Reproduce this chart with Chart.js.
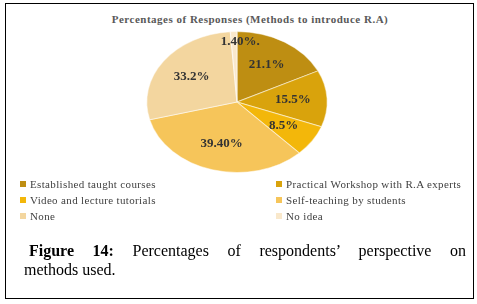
<!DOCTYPE html>
<html>
<head>
<meta charset="utf-8">
<script src="https://cdn.jsdelivr.net/npm/chart.js@4/dist/chart.umd.min.js"></script>
<style>
  body { margin: 0; background: #fff; }
  #frame { position: absolute; left: 5px; top: 3px; width: 467px; height: 294px; border: 1px solid #000; }
  #title { position: absolute; left: 0; top: 13px; width: 500px; text-align: center;
           font: bold 11px "Liberation Serif", serif; color: #595959; letter-spacing: 0.5px; }
  #chart { position: absolute; left: 5px; top: 0; }
  .leg { position: absolute; font: 11px "Liberation Serif", serif; color: #404040; white-space: nowrap;
         letter-spacing: 0.35px; }
  .leg i { display: inline-block; width: 6px; height: 6px; margin-right: 4px; vertical-align: 1px; }
  #cap { position: absolute; left: 24px; top: 241px; width: 442px; font: 16px "Liberation Serif", serif;
         color: #000; line-height: 19px; }
  #cap .l1 { text-align: justify; text-align-last: justify; text-indent: 5px; }
</style>
</head>
<body>
<div id="frame"></div>
<div id="title">Percentages of Responses (Methods to introduce R.A)</div>
<canvas id="chart" width="464" height="200"></canvas>
<div id="legend"></div>
<div id="cap">
  <div class="l1"><b>Figure 14:</b> Percentages of respondents’ perspective on</div>
  <div>methods used.</div>
</div>
<script>
const categories = ['Established taught courses', 'Practical Workshop with R.A experts',
  'Video and lecture tutorials', 'Self-teaching by students', 'None', 'No idea']
const values = [21.1, 15.5, 8.5, 39.4, 33.2, 1.4]
const valueLabels = ['21.1%', '15.5%', '8.5%', '39.40%', '33.2%', '1.40%.']
const colors = ['#BE8E12', '#D9A30C', '#F3B70A', '#F6C55A', '#F3D69F', '#F9E8CB']

// stretch the pie sideways so it looks like the tilted excel pie
const squash = {
  id: 'squash',
  beforeDatasetsDraw(chart) {
    const a = chart.getDatasetMeta(0).data[0]
    const ctx = chart.ctx
    ctx.save()
    ctx.translate(a.x, a.y)
    ctx.scale(1.28, 1)
    ctx.translate(-a.x, -a.y)
  },
  afterDatasetsDraw(chart) {
    const ctx = chart.ctx
    ctx.restore()
    const total = values.reduce((s, v) => s + v, 0)
    ctx.save()
    ctx.font = 'bold 13px "Liberation Serif", serif'
    ctx.fillStyle = '#333333'
    ctx.textAlign = 'center'
    ctx.textBaseline = 'middle'
    chart.getDatasetMeta(0).data.forEach((arc, i) => {
      const small = values[i] / total < 0.03
      const mid = (arc.startAngle + arc.endAngle) / 2
      const k = small ? 0.86 : 0.62
      const x = arc.x + Math.cos(mid) * arc.outerRadius * k * 1.28
      const y = arc.y + Math.sin(mid) * arc.outerRadius * k
      ctx.fillText(valueLabels[i], x + (small ? 6 : 0), y)
    })
    ctx.restore()
  }
}

new Chart(document.getElementById('chart'), {
  type: 'pie',
  data: {
    labels: categories,
    datasets: [{
      data: values,
      backgroundColor: colors,
      borderColor: 'rgba(255,255,255,0.5)',
      borderWidth: 1,
    }]
  },
  options: {
    responsive: false,
    animation: false,
    layout: { padding: { top: 31, bottom: 27 } },
    plugins: { legend: { display: false }, tooltip: { enabled: false } }
  },
  plugins: [squash]
})

// legend, two columns like the original
const legend = document.getElementById('legend')
categories.forEach((c, i) => {
  const d = document.createElement('div')
  d.className = 'leg'
  d.style.left = (i % 2 === 0 ? 20 : 276) + 'px'
  d.style.top = (178 + Math.floor(i / 2) * 16) + 'px'
  d.innerHTML = '<i style="background:' + colors[i] + '"></i>' + c
  legend.appendChild(d)
})
</script>
</body>
</html>
